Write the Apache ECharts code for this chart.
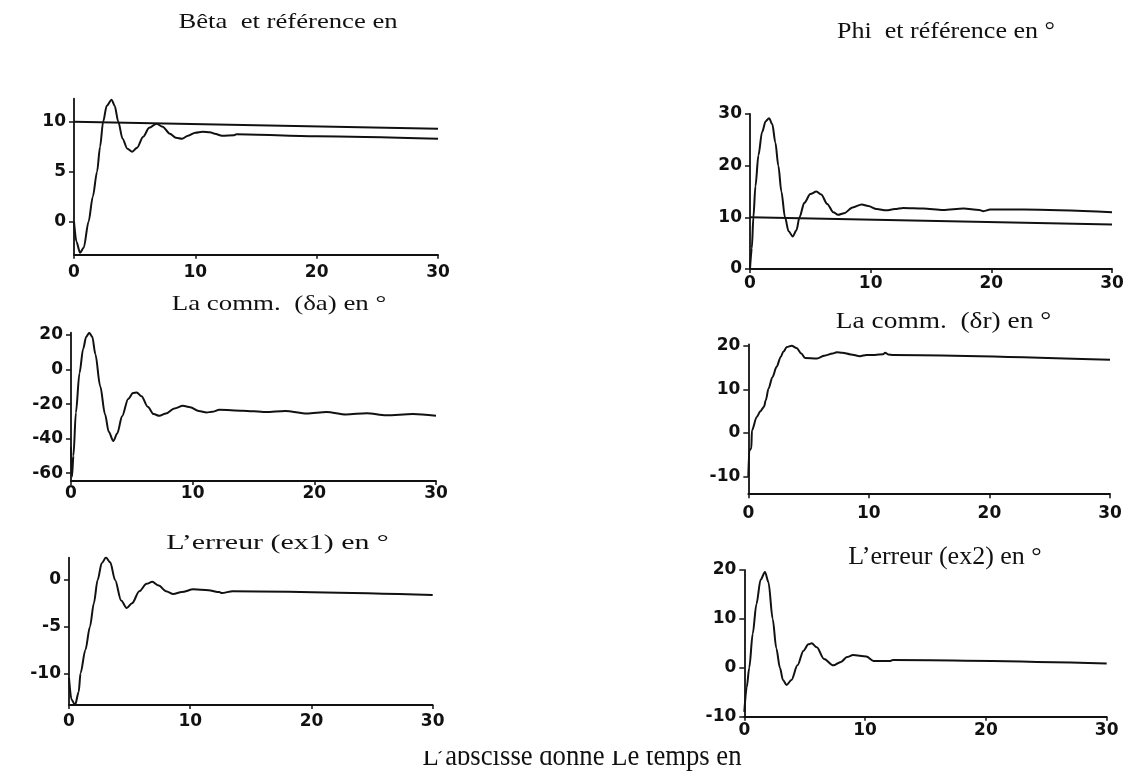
<!DOCTYPE html>
<html>
<head>
<meta charset="utf-8">
<script src="https://cdn.jsdelivr.net/npm/echarts@6/dist/echarts.min.js"></script>
<style>
html,body{margin:0;padding:0;background:#ffffff;}
#chart{width:1131px;height:774px;}
</style>
</head>
<body>
<div id="chart"></div>
<script>
// ---------- data ----------
const timeTicks = [0, 10, 20, 30];

// Bêta et référence
const betaTime  = [0, 0.2, 0.5, 0.8, 1.2, 1.55, 1.9, 2.15, 2.4, 2.7, 3.1, 3.35, 3.65, 4.0, 4.4, 4.8, 5.2, 5.7, 6.2, 6.8, 7.3, 7.9, 8.4, 8.9, 9.4, 10.0, 10.6, 11.2, 11.6, 12.2, 13.2, 13.4, 20, 30];
const betaValue = [0, -2.0, -3.1, -2.6, 0, 2.5, 5, 7.5, 10, 11.6, 12.2, 11.6, 10, 8.3, 7.3, 7.0, 7.4, 8.5, 9.4, 9.8, 9.5, 8.8, 8.4, 8.3, 8.6, 8.9, 9.0, 8.95, 8.8, 8.6, 8.65, 8.75, 8.55, 8.3];
const betaRefTime  = [0, 30];
const betaRefValue = [10, 9.3];
const betaTicks = [0, 5, 10];

// Phi et référence
const phiTime  = [0, 0.15, 0.28, 0.45, 0.7, 1.0, 1.3, 1.58, 1.85, 2.1, 2.35, 2.6, 2.9, 3.2, 3.54, 3.85, 4.1, 4.5, 5.0, 5.5, 5.9, 6.4, 6.9, 7.3, 7.8, 8.5, 9.26, 9.8, 10.5, 11.3, 12.0, 12.7, 14.35, 16, 17.7, 19.0, 19.35, 19.9, 22.7, 30];
const phiValue = [0, 4, 10, 16, 22, 26.5, 28.6, 29.2, 28, 24.5, 20, 15, 10, 7.3, 6.3, 7.5, 10, 12.8, 14.5, 15.0, 14.4, 12.6, 11.0, 10.5, 10.8, 11.9, 12.5, 12.2, 11.6, 11.35, 11.6, 11.8, 11.7, 11.4, 11.7, 11.4, 11.2, 11.5, 11.5, 11.0];
const phiRefTime  = [0, 30];
const phiRefValue = [10, 8.6];
const phiTicks = [0, 10, 20, 30];

// La commande δa
const daTime  = [0, 0.08, 0.2, 0.4, 0.7, 1.0, 1.25, 1.5, 1.75, 2.0, 2.4, 2.8, 3.1, 3.48, 3.8, 4.2, 4.7, 5.1, 5.4, 5.8, 6.3, 6.8, 7.26, 7.8, 8.5, 9.2, 9.8, 10.5, 11.15, 11.6, 12.2, 14.1, 16, 17.6, 19.4, 21, 22.6, 24.3, 25.9, 28.1, 30];
const daValue = [-45, -62, -50, -25, -2, 12, 19, 21.3, 19, 9, -9.6, -26, -36, -41.4, -37, -27, -17, -13.6, -13.3, -15.5, -21.5, -25.8, -26.8, -25.5, -22.5, -21, -21.8, -24, -24.8, -24.5, -23.3, -23.8, -24.6, -24, -25.5, -24.6, -26, -25.3, -26.5, -25.8, -26.8];
const daTicks = [-60, -40, -20, 0, 20];

// La commande δr
const drTime  = [0, 0.08, 0.25, 0.3, 0.7, 1.0, 1.3, 1.45, 1.68, 2.0, 2.35, 2.7, 2.9, 3.2, 3.6, 4.0, 4.4, 4.7, 5.7, 6.3, 7.0, 7.33, 7.8, 8.5, 9.26, 9.8, 10.5, 11.2, 11.35, 11.6, 12.0, 30];
const drValue = [-10, -4, -3.5, 0.6, 3.7, 5, 6, 7.5, 10.2, 12.8, 15.2, 17.5, 18.6, 19.7, 20.0, 19.5, 18.2, 17.2, 17.1, 17.7, 18.2, 18.5, 18.4, 18.0, 17.6, 17.9, 17.9, 18.05, 18.4, 18.0, 17.9, 16.8];
const drTicks = [-10, 0, 10, 20];

// L'erreur ex1
const ex1Time  = [0, 0.2, 0.5, 0.8, 0.95, 1.35, 1.73, 2.05, 2.36, 2.7, 3.05, 3.4, 3.8, 4.3, 4.76, 5.2, 5.8, 6.4, 6.87, 7.4, 8.0, 8.6, 9.3, 10.26, 11.5, 12.4, 12.6, 13.5, 30];
const ex1Value = [-10.5, -12.8, -13.4, -12.0, -10, -7.5, -5, -2.5, 0, 1.8, 2.4, 1.9, 0, -2.2, -3.0, -2.5, -1.2, -0.4, -0.2, -0.6, -1.2, -1.5, -1.3, -1.0, -1.1, -1.3, -1.4, -1.2, -1.6];
const ex1Ticks = [-10, -5, 0];

// L'erreur ex2
const ex2Time  = [0, 0.2, 0.41, 0.7, 1.0, 1.35, 1.71, 2.0, 2.35, 2.65, 2.95, 3.2, 3.5, 3.9, 4.4, 4.9, 5.3, 5.58, 6.0, 6.6, 7.37, 8.0, 8.5, 9.0, 10.1, 10.7, 12.1, 12.3, 30];
const ex2Value = [-9, -4, 0, 7, 13, 18, 19.6, 17.5, 10, 4, 0, -2.5, -3.5, -2.5, 0.5, 3.5, 4.8, 5.0, 4.2, 1.8, 0.5, 1.2, 2.2, 2.6, 2.3, 1.4, 1.4, 1.6, 0.9];
const ex2Ticks = [-10, 0, 10, 20];

// ---------- chart ----------
const pairs = (t, v) => t.map((x, i) => [x, v[i]]);

const panels = [
  { grid: {left: 74,    top: 98.7,  width: 364,   height: 156},   yMin: -3.3,  yMax: 12.3, ticks: betaTicks, xMargin: 9,
    lines: [pairs(betaTime, betaValue), pairs(betaRefTime, betaRefValue)] },
  { grid: {left: 750,   top: 114,   width: 362,   height: 155},   yMin: 0,     yMax: 30,   ticks: phiTicks, xMargin: 6,
    lines: [pairs(phiTime, phiValue), pairs(phiRefTime, phiRefValue)] },
  { grid: {left: 71,    top: 332.7, width: 365,   height: 148.3}, yMin: -64.5, yMax: 21.3, ticks: daTicks, xMargin: 4,
    lines: [pairs(daTime, daValue)] },
  { grid: {left: 748.3, top: 344.4, width: 361.7, height: 149.8}, yMin: -14,   yMax: 20.3, ticks: drTicks, xMargin: 11,
    lines: [pairs(drTime, drValue)] },
  { grid: {left: 69,    top: 557.6, width: 363.7, height: 147.4}, yMin: -13.4, yMax: 2.4,  ticks: ex1Ticks, xMargin: 8,
    lines: [pairs(ex1Time, ex1Value)] },
  { grid: {left: 744.3, top: 570,   width: 362.4, height: 146.7}, yMin: -10,   yMax: 20,   ticks: ex2Ticks, xMargin: 5,
    lines: [pairs(ex2Time, ex2Value)] }
];

const ink = '#111111';
const labelFont = { fontFamily: 'DejaVu Sans', fontWeight: 'bold', fontSize: 17, color: ink };

const grids = [], xAxes = [], yAxes = [], series = [];
panels.forEach((p, i) => {
  grids.push(Object.assign({ containLabel: false }, p.grid));
  xAxes.push({
    type: 'value', gridIndex: i, min: 0, max: 30, interval: 10,
    axisLine: { show: true, onZero: false, lineStyle: { color: ink, width: 1.8 } },
    axisTick: { show: true, length: 4, lineStyle: { color: ink, width: 1.5 }, customValues: timeTicks },
    axisLabel: Object.assign({ margin: p.xMargin, customValues: timeTicks }, labelFont),
    splitLine: { show: false }
  });
  yAxes.push({
    type: 'value', gridIndex: i, min: p.yMin, max: p.yMax,
    axisLine: { show: true, onZero: false, lineStyle: { color: ink, width: 1.8 } },
    axisTick: { show: true, length: 5, lineStyle: { color: ink, width: 1.5 }, customValues: p.ticks },
    axisLabel: Object.assign({ margin: 8, customValues: p.ticks }, labelFont),
    splitLine: { show: false }
  });
  p.lines.forEach(d => {
    series.push({
      type: 'line', xAxisIndex: i, yAxisIndex: i, data: d,
      symbol: 'none', smooth: 0.3, smoothMonotone: 'x',
      lineStyle: { color: ink, width: 2 }, silent: true, animation: false
    });
  });
});

const serif = '"Liberation Serif", "Times New Roman", serif';
function title(text, cx, cy, size, sx) {
  return { type: 'text', x: cx, y: cy, scaleX: sx, z: 10,
    style: { text: text, font: size + 'px ' + serif, fill: '#111111', align: 'center', verticalAlign: 'middle' } };
}

const chart = echarts.init(document.getElementById('chart'), null, { renderer: 'canvas' });
chart.setOption({
  backgroundColor: '#ffffff',
  animation: false,
  grid: grids,
  xAxis: xAxes,
  yAxis: yAxes,
  series: series,
  graphic: [
    title('Bêta  et référence en', 288, 22, 21, 1.27),
    title('Phi  et référence en °', 946, 32, 24, 1.085),
    title('La comm.  (δa) en °', 279, 304, 21.5, 1.25),
    title('La comm.  (δr) en °', 943.5, 322, 24, 1.14),
    title('L’erreur (ex1) en °', 277.5, 543, 22, 1.36),
    title('L’erreur (ex2) en °', 945, 557, 26, 1.0),
    title('L’abscisse donne Le temps en', 582, 757, 29, 0.92),
    { type: 'rect', z: 20, shape: { x: 415, y: 736, width: 322, height: 15 }, style: { fill: '#ffffff' } }
  ]
});
</script>
</body>
</html>
